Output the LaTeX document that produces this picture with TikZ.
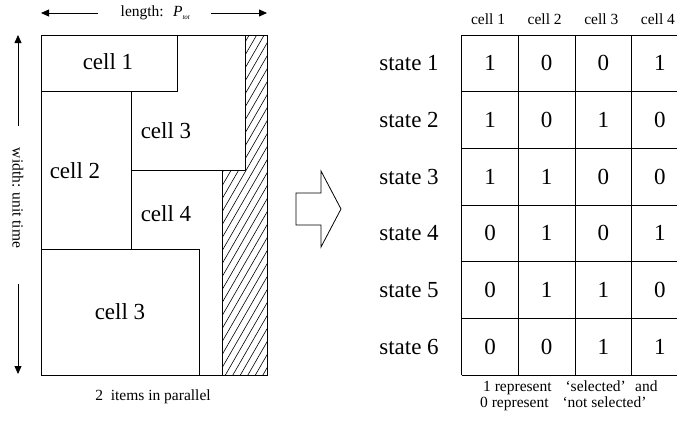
\documentclass[tikz,border=0pt]{standalone}
\usepackage{fontspec}
\setmainfont{Liberation Serif}
\usetikzlibrary{arrows.meta}
\begin{document}
\begin{tikzpicture}[x=1pt,y=-1pt,
  ln/.style={line width=0.8pt},
  hatchline/.style={line width=0.6pt},
  big/.style={font=\fontsize{23}{27}\selectfont, inner sep=0pt},
  small/.style={font=\fontsize{15.5}{18}\selectfont, inner sep=0pt},
  arr/.style={line width=0.8pt,-{Triangle[length=8pt,width=7pt]}}]
\useasboundingbox (0,0) rectangle (677,423);

% ---------- left figure ----------
\begin{scope}
  \clip (245,35) -- (267,35) -- (267,375) -- (222,375) -- (222,170) -- (245,170) -- cycle;
  \foreach \a in {20,27.5,...,275}
    \draw[hatchline] (\a,380) -- (\a+200,380-346.4);
\end{scope}
\draw[ln] (245,35) -- (245,170) -- (222,170) -- (222,375);
\draw[ln] (41,35) rectangle (267,375);
\draw[ln] (41,35) rectangle (177,91);
\draw[ln] (177,91) -- (131,91) -- (131,249);
\draw[ln] (131,170) -- (245,170);
\draw[ln] (41,249) -- (199,249) -- (199,375);

\node[big] (c1) at (108,62) {cell 1};
\node[big] (c3a) at (166,131) {cell 3};
\node[big] (c2) at (75,171) {cell 2};
\node[big] (c4) at (166,214) {cell 4};
\node[big] (c3b) at (120,312) {cell 3};

% length arrow
\coordinate (lenL) at (41,13);
\coordinate (lenR) at (267,13);
\node[small, anchor=west] (len) at (120.5,13) {length:\hspace{0.6em}{\itshape P}\raisebox{-2.5pt}{\fontsize{7}{8}\selectfont\itshape tot}};
\coordinate (lenA) at (97.5,13);
\coordinate (lenB) at (211,13);
\draw[arr] (lenA) -- (lenL);
\draw[arr] (lenB) -- (lenR);

% width arrow
\coordinate (wT) at (18,35);
\coordinate (wA) at (18,126);
\coordinate (wB) at (18,284);
\coordinate (wD) at (18,374);
\node[small, rotate=-90] (wid) at (18,198) {width: unit time};
\draw[arr] (wA) -- (wT);
\draw[arr] (wB) -- (wD);

\node[small] (par) at (153,397) {2\hspace{0.5em}items in parallel};

% ---------- block arrow ----------
\draw[ln] (296,193) -- (321,193) -- (321,171) -- (341,209) -- (321,247) -- (321,225) -- (296,225) -- cycle;

% ---------- table ----------
\def\tx{461.7}
\def\cw{56.65}
\def\ty{35}
\foreach \r in {0,...,6} \draw[ln] (\tx,\ty+\r*\cw) -- (677,\ty+\r*\cw);
\foreach \c in {0,...,3} \draw[ln] (\tx+\c*\cw,\ty) -- (\tx+\c*\cw,\ty+6*\cw);

\foreach \c in {1,...,4}
  \node[small] (h\c) at (\tx+\c*\cw-0.5*\cw-2,19) {cell \c};
\foreach \r in {1,...,6}
  \node[big] (s\r) at (409,\ty+\r*\cw-0.5*\cw) {state \r};

\foreach \vals [count=\r] in {{1,0,0,1},{1,0,1,0},{1,1,0,0},{0,1,0,1},{0,1,1,0},{0,0,1,1}}
  \foreach \v [count=\c] in \vals
    \node[big] (v\r-\c) at (\tx+\c*\cw-0.5*\cw,\ty+\r*\cw-0.5*\cw) {\v};

\node[small, anchor=west] (cap1) at (483,388) {1 represent\hspace{0.9em}‘selected’\hspace{0.6em}and};
\node[small, anchor=west] (cap2) at (480,404) {0 represent\hspace{0.9em}‘not selected’};
\end{tikzpicture}
\end{document}
